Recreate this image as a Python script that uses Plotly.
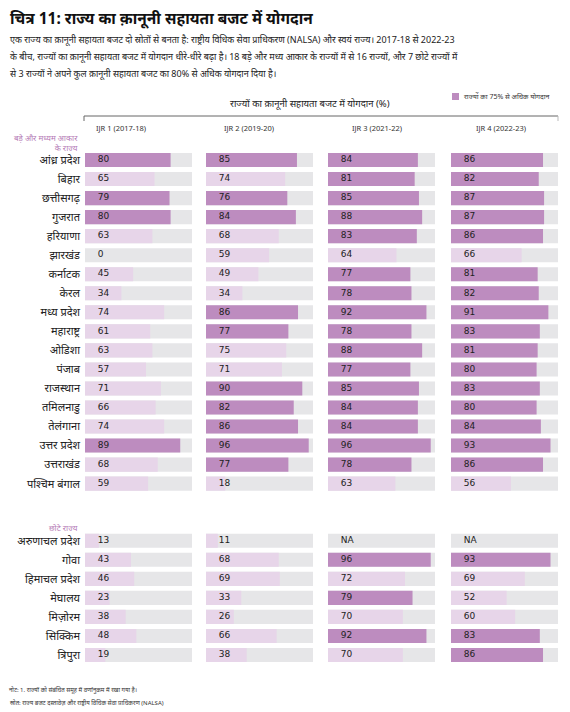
import plotly.graph_objects as go

W, H = 570, 712

big_states = ["आंध्र प्रदेश", "बिहार", "छत्तीसगढ़", "गुजरात", "हरियाणा", "झारखंड",
              "कर्नाटक", "केरल", "मध्य प्रदेश", "महाराष्ट्र", "ओडिशा", "पंजाब",
              "राजस्थान", "तमिलनाडु", "तेलंगाना", "उत्तर प्रदेश", "उत्तराखंड", "पश्चिम बंगाल"]
small_states = ["अरुणाचल प्रदेश", "गोवा", "हिमाचल प्रदेश", "मेघालय", "मिज़ोरम", "सिक्किम", "त्रिपुरा"]

ijr_labels = ["IJR 1 (2017-18)", "IJR 2 (2019-20)", "IJR 3 (2021-22)", "IJR 4 (2022-23)"]

ijr1_big = [80, 65, 79, 80, 63, 0, 45, 34, 74, 61, 63, 57, 71, 66, 74, 89, 68, 59]
ijr2_big = [85, 74, 76, 84, 68, 59, 49, 34, 86, 77, 75, 71, 90, 82, 86, 96, 77, 18]
ijr3_big = [84, 81, 85, 88, 83, 64, 77, 78, 92, 78, 88, 77, 85, 84, 84, 96, 78, 63]
ijr4_big = [86, 82, 87, 87, 86, 66, 81, 82, 91, 83, 81, 80, 83, 80, 84, 93, 86, 56]

ijr1_small = [13, 43, 46, 23, 38, 48, 19]
ijr2_small = [11, 68, 69, 33, 26, 66, 38]
ijr3_small = [None, 96, 72, 79, 70, 92, 70]
ijr4_small = [None, 93, 69, 52, 60, 83, 86]

threshold = 75

DARK = "#bd8cbf"
LIGHT = "#e7d5e9"
GREY = "#e6e6e8"
FONT = "Noto Sans, DejaVu Sans, sans-serif"


def px_x(v):
    return v / W


def px_y(v):
    return 1 - v / H


# row positions: big states first, then a gap of two empty rows, then small states
states = big_states + small_states
rows = list(range(len(big_states))) + [len(big_states) + 2 + i for i in range(len(small_states))]
series = [ijr1_big + ijr1_small, ijr2_big + ijr2_small,
          ijr3_big + ijr3_small, ijr4_big + ijr4_small]

panel_left = [85, 206, 328, 451]
panel_w = 107
header_x = [121, 249, 377, 501]

fig = go.Figure()

for k, vals in enumerate(series):
    xa = "x" if k == 0 else "x%d" % (k + 1)
    fig.add_trace(go.Bar(
        x=[100] * len(rows), y=rows, orientation="h", xaxis=xa, yaxis="y",
        marker=dict(color=GREY, line_width=0), width=0.74,
        hoverinfo="skip", showlegend=False))
    fig.add_trace(go.Bar(
        x=[v if v is not None else 0 for v in vals], y=rows, orientation="h",
        xaxis=xa, yaxis="y",
        marker=dict(color=[DARK if (v is not None and v > threshold) else LIGHT for v in vals],
                    line_width=0),
        width=0.74, showlegend=False,
        hovertext=states, hovertemplate="%{hovertext}: %{x}<extra></extra>"))
    fig.add_trace(go.Scatter(
        x=[12] * len(rows), y=rows, xaxis=xa, yaxis="y", mode="text",
        text=[str(v) if v is not None else "NA" for v in vals],
        textposition="middle right",
        textfont=dict(family="DejaVu Sans, sans-serif", size=9, color="#222"),
        hoverinfo="skip", showlegend=False))

n_rows = rows[-1] + 1
axis_common = dict(range=[0, 100], showgrid=False, zeroline=False,
                   showticklabels=False, fixedrange=True)
layout_axes = {}
for k in range(4):
    name = "xaxis" if k == 0 else "xaxis%d" % (k + 1)
    d = dict(axis_common)
    d["domain"] = [px_x(panel_left[k]), px_x(panel_left[k] + panel_w)]
    d["anchor"] = "y"
    layout_axes[name] = d

fig.update_layout(**layout_axes)
fig.update_layout(
    yaxis=dict(range=[n_rows - 0.5, -0.5], domain=[px_y(664.5), px_y(150.5)],
               tickmode="array", tickvals=rows, ticktext=states,
               tickfont=dict(family=FONT, size=11, color="#222"),
               showgrid=False, zeroline=False, showline=False, ticks="",
               ticklabelstandoff=4, fixedrange=True),
    barmode="overlay",
    width=W, height=H,
    margin=dict(l=0, r=0, t=0, b=0),
    paper_bgcolor="white", plot_bgcolor="white",
)

ann = []
ann.append(dict(x=px_x(8), y=px_y(18), xref="paper", yref="paper", xanchor="left", yanchor="middle",
                text="<b>चित्र 11: राज्य का क़ानूनी सहायता बजट में योगदान</b>", showarrow=False,
                font=dict(family=FONT, size=15.5, color="#111")))
subtitle = [
    "एक राज्य का क़ानूनी सहायता बजट दो स्रोतों से बनता है: राष्ट्रीय विधिक सेवा प्राधिकरण (NALSA) और स्वयं राज्य। 2017-18 से 2022-23",
    "के बीच, राज्यों का क़ानूनी सहायता बजट में योगदान धीरे-धीरे बढ़ा है। 18 बड़े और मध्य आकार के राज्यों में से 16 राज्यों, और 7 छोटे राज्यों में",
    "से 3 राज्यों ने अपने कुल क़ानूनी सहायता बजट का 80% से अधिक योगदान दिया है।",
]
for i, line in enumerate(subtitle):
    ann.append(dict(x=px_x(8), y=px_y(39 + 17.5 * i), xref="paper", yref="paper",
                    xanchor="left", yanchor="middle", text=line, showarrow=False,
                    font=dict(family=FONT, size=9, color="#222")))

ann.append(dict(x=px_x(310), y=px_y(103), xref="paper", yref="paper", xanchor="center", yanchor="middle",
                text="राज्यों का क़ानूनी सहायता बजट में योगदान (%)", showarrow=False,
                font=dict(family=FONT, size=9.5, color="#222")))
ann.append(dict(x=px_x(462), y=px_y(96), xref="paper", yref="paper", xanchor="left", yanchor="middle",
                text="राज्यों का 75% से अधिक योगदान", showarrow=False,
                font=dict(family=FONT, size=7, color="#333")))
for k, lab in enumerate(ijr_labels):
    ann.append(dict(x=px_x(header_x[k]), y=px_y(128), xref="paper", yref="paper",
                    xanchor="center", yanchor="middle", text=lab, showarrow=False,
                    font=dict(family=FONT, size=7.5, color="#333")))
ann.append(dict(x=px_x(80), y=px_y(142), xref="paper", yref="paper", xanchor="right", yanchor="middle",
                text="बड़े और मध्यम आकार<br>के राज्य", showarrow=False, align="right",
                font=dict(family=FONT, size=8, color="#b57bb6")))
ann.append(dict(x=px_x(80), y=px_y(527), xref="paper", yref="paper", xanchor="right", yanchor="middle",
                text="छोटे राज्य", showarrow=False,
                font=dict(family=FONT, size=8, color="#b57bb6")))
ann.append(dict(x=px_x(7), y=px_y(690), xref="paper", yref="paper", xanchor="left", yanchor="middle",
                text="नोट: 1. राज्यों को संबंधित समूह में वर्णानुक्रम में रखा गया है।", showarrow=False,
                font=dict(family=FONT, size=6, color="#333")))
ann.append(dict(x=px_x(8), y=px_y(703), xref="paper", yref="paper", xanchor="left", yanchor="middle",
                text="स्रोत: राज्य बजट दस्तावेज़ और राष्ट्रीय विधिक सेवा प्राधिकरण (NALSA)", showarrow=False,
                font=dict(family=FONT, size=6, color="#333")))
fig.update_layout(annotations=ann)

shapes = [
    dict(type="rect", xref="paper", yref="paper", x0=px_x(452), x1=px_x(459), y0=px_y(100), y1=px_y(93),
         fillcolor=DARK, line_width=0),
    dict(type="line", xref="paper", yref="paper", x0=px_x(84), x1=px_x(558), y0=px_y(116), y1=px_y(116),
         line=dict(color="#666", width=1)),
    dict(type="line", xref="paper", yref="paper", x0=px_x(84), x1=px_x(84), y0=px_y(116), y1=px_y(121),
         line=dict(color="#666", width=1)),
    dict(type="line", xref="paper", yref="paper", x0=px_x(558), x1=px_x(558), y0=px_y(116), y1=px_y(121),
         line=dict(color="#bbb", width=1)),
]
fig.update_layout(shapes=shapes)

# drop the page's default body margin so the figure fills the window exactly
fig.write_html("out.html", config={"displayModeBar": False},
               post_script="document.body.style.margin='0';")
